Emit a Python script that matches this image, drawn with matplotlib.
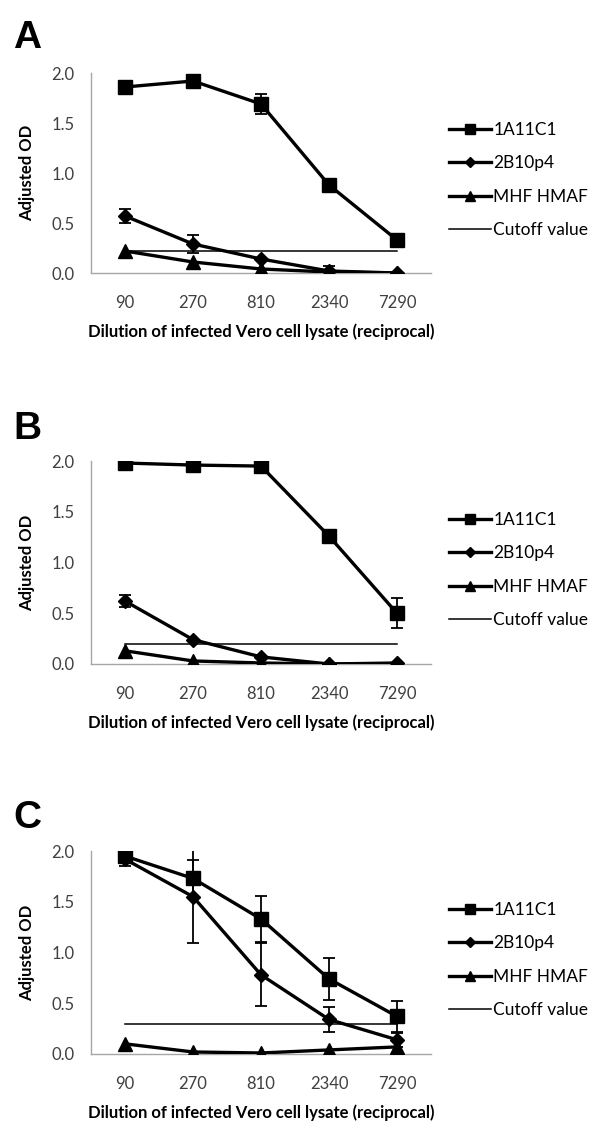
import matplotlib
matplotlib.use('Agg')
import matplotlib.pyplot as plt
import numpy as np

# dilution categories
DILUTIONS = ['90', '270', '810', '2340', '7290']
SERIES = ['1A11C1', '2B10p4', 'MHF HMAF']

# panel A
A_VALS = {'1A11C1': [1.86, 1.92, 1.69, 0.88, 0.33],
          '2B10p4': [0.57, 0.29, 0.14, 0.02, 0.00],
          'MHF HMAF': [0.22, 0.11, 0.04, 0.01, 0.00]}
A_ERR = {'1A11C1': [0.0, 0.0, 0.10, 0.05, 0.04],
         '2B10p4': [0.07, 0.09, 0.0, 0.05, 0.0],
         'MHF HMAF': [0.0, 0.0, 0.0, 0.0, 0.0]}
A_CUTOFF = 0.22

# panel B
B_VALS = {'1A11C1': [1.98, 1.96, 1.95, 1.26, 0.50],
          '2B10p4': [0.62, 0.24, 0.07, 0.00, 0.01],
          'MHF HMAF': [0.13, 0.03, 0.01, 0.00, 0.00]}
B_ERR = {'1A11C1': [0.0, 0.0, 0.0, 0.05, 0.15],
         '2B10p4': [0.06, 0.0, 0.0, 0.0, 0.0],
         'MHF HMAF': [0.0, 0.0, 0.0, 0.0, 0.0]}
B_CUTOFF = 0.20

# panel C
C_VALS = {'1A11C1': [1.95, 1.73, 1.33, 0.74, 0.37],
          '2B10p4': [1.92, 1.55, 0.78, 0.34, 0.14],
          'MHF HMAF': [0.10, 0.02, 0.01, 0.04, 0.07]}
C_ERR = {'1A11C1': [0.03, 0.18, 0.23, 0.21, 0.15],
         '2B10p4': [0.07, 0.46, 0.31, 0.12, 0.07],
         'MHF HMAF': [0.0, 0.0, 0.0, 0.0, 0.0]}
C_CUTOFF = 0.30

PANELS = [('A', A_VALS, A_ERR, A_CUTOFF), ('B', B_VALS, B_ERR, B_CUTOFF),
          ('C', C_VALS, C_ERR, C_CUTOFF)]

W, H = 600, 1148
fig = plt.figure(figsize=(W / 100, H / 100), dpi=100)
plt.rcParams['font.family'] = ['Lato', 'DejaVu Sans']

# axes boxes in pixels: (top, bottom), and letter / legend y in pixels
AX_TOP = [73, 461, 851]
AX_BOT = [273, 664, 1054]
LETTER_Y = [38, 429, 818]
LEG_Y = [132, 522, 912]
MARKERS = {'1A11C1': ('s', 10.5), '2B10p4': ('D', 7), 'MHF HMAF': ('^', 10.5)}

x = np.arange(len(DILUTIONS))
for i, (letter, vals, errs, cutoff) in enumerate(PANELS):
    ax = fig.add_axes([91 / W, 1 - AX_BOT[i] / H, 340 / W, (AX_BOT[i] - AX_TOP[i]) / H])
    handles = []
    for name in SERIES:
        mk, ms = MARKERS[name]
        err = np.array(errs[name])
        ax.errorbar(x, vals[name], yerr=np.where(err > 0, err, np.nan), fmt='none',
                    ecolor='black', elinewidth=1.3, capsize=4, capthick=1.3, zorder=3)
        line, = ax.plot(x, vals[name], color='black', lw=2.4, marker=mk, ms=ms,
                        label=name, zorder=4)
        handles.append(line)
    cut, = ax.plot([x[0], x[-1]], [cutoff, cutoff], color='black', lw=1.1,
                   label='Cutoff value', zorder=2)
    handles.append(cut)

    ax.set_xlim(-0.5, len(DILUTIONS) - 0.5)
    ax.set_ylim(0, 2.0)
    ax.set_yticks([0, 0.5, 1.0, 1.5, 2.0])
    ax.set_yticklabels(['0.0', '0.5', '1.0', '1.5', '2.0'])
    ax.set_xticks(x)
    ax.set_xticklabels(DILUTIONS)
    for s in ['top', 'right']:
        ax.spines[s].set_visible(False)
    for s in ['left', 'bottom']:
        ax.spines[s].set_color('#a6a6a6')
        ax.spines[s].set_linewidth(1.0)
    ax.tick_params(axis='both', length=0, labelsize=12, colors='#404040')
    ax.tick_params(axis='x', pad=16)
    ax.tick_params(axis='y', pad=12)
    ax.set_ylabel('Adjusted OD', fontsize=12, fontweight='bold')
    ax.yaxis.set_label_coords(-0.165, 0.5)
    ax.set_xlabel('Dilution of infected Vero cell lysate (reciprocal)',
                  fontsize=12, fontweight='bold')
    ax.xaxis.set_label_coords(0.5, -0.25)
    ax.patch.set_alpha(0)

    ax.legend(handles=handles, loc='upper left', frameon=False,
              bbox_to_anchor=(449 / W, 1 - (LEG_Y[i] - 10) / H),
              bbox_transform=fig.transFigure, fontsize=12.5, markerscale=0.75,
              handlelength=2.4, handletextpad=0.15, labelspacing=1.0,
              borderpad=0, borderaxespad=0)

    fig.text(27 / W, 1 - LETTER_Y[i] / H, letter, fontsize=28, fontweight='bold',
             family='Liberation Sans', ha='center', va='center')

fig.savefig('out.png', dpi=100)
